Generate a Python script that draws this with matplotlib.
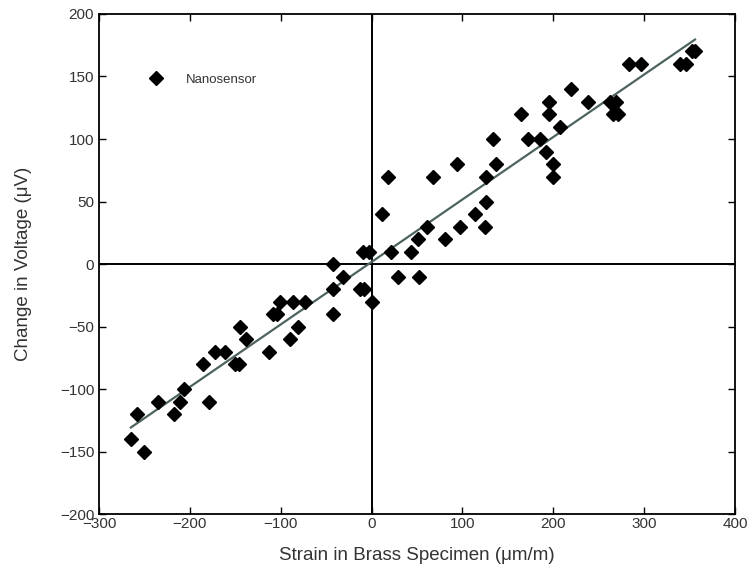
import numpy as np
import matplotlib
matplotlib.use('Agg')
from matplotlib import pyplot as plt

plt.rcParams['font.family'] = ['Liberation Sans', 'DejaVu Sans']

# strain (um/m) and voltage change (uV)
strain = [-265, -250, -258, -235, -217, -211, -206, -186, -179, -172,
          -161, -150, -146, -145, -138, -113, -108, -104, -101, -87,
          -73, -90, -81, -43, -32, -43, -43, -13, -8, 1,
          -10, -3, 21, 18, 11, 68, 94, 134, 137, 126,
          126, 114, 125, 97, 81, 61, 51, 43, 29, 52,
          165, 172, 185, 192, 200, 200, 207, 195, 195, 219,
          238, 262, 269, 266, 271, 283, 297, 340, 346, 353, 356]
voltage = [-140, -150, -120, -110, -120, -110, -100, -80, -110, -70,
           -70, -80, -80, -50, -60, -70, -40, -40, -30, -30,
           -30, -60, -50, 0, -10, -20, -40, -20, -20, -30,
           10, 10, 10, 70, 40, 70, 80, 100, 80, 70,
           50, 40, 30, 30, 20, 30, 20, 10, -10, -10,
           120, 100, 100, 90, 80, 70, 110, 130, 120, 140,
           130, 130, 130, 120, 120, 160, 160, 160, 160, 170, 170]

xticks = [-300, -200, -100, 0, 100, 200, 300, 400]
yticks = [-200, -150, -100, -50, 0, 50, 100, 150, 200]

fig = plt.figure(figsize=(7.48, 5.76), dpi=100)
ax = fig.add_axes([0.1324, 0.1076, 0.8502, 0.8681])

# zero lines
ax.axhline(0, color='black', lw=1.4, zorder=1)
ax.axvline(0, color='black', lw=1.4, zorder=1)

ax.plot(strain, voltage, 'D', color='black', markersize=7, label='Nanosensor', zorder=3)

# least squares line
k, b = np.polyfit(strain, voltage, 1)
xf = np.array([min(strain), max(strain)])
ax.plot(xf, k * xf + b, '-', color='#4d6360', lw=1.6, zorder=2)

ax.set_xlim(-300, 400)
ax.set_ylim(-200, 200)
ax.set_xticks(xticks)
ax.set_yticks(yticks)
ax.tick_params(direction='in', top=True, right=True, length=5, width=1,
               labelsize=11, labelcolor='#333333')
ax.tick_params(axis='x', pad=2)
for s in ax.spines.values():
    s.set_linewidth(1.3)

ax.set_xlabel('Strain in Brass Specimen (\u03bcm/m)', fontsize=13.5, color='#333333', labelpad=12)
ax.set_ylabel('Change in Voltage (\u03bcV)', fontsize=13.5, color='#333333', labelpad=20)

ax.legend(loc='upper left', bbox_to_anchor=(0.05, 0.905), frameon=False,
          fontsize=9.5, handletextpad=1.3, labelcolor='#333333')

plt.savefig('out.png', dpi=100)
